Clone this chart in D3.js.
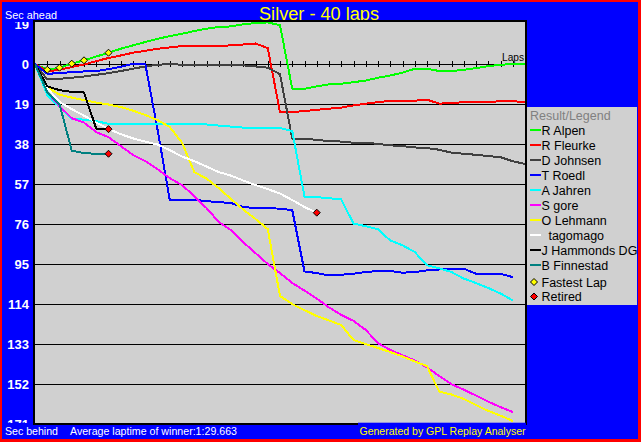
<!DOCTYPE html>
<html><head><meta charset="utf-8">
<script src="https://cdn.jsdelivr.net/npm/d3@7"></script>
<style>
html,body{margin:0;padding:0;background:#ff0000;overflow:hidden}
svg{display:block}
text{font-family:"Liberation Sans",Arial,sans-serif}
</style></head><body>
<svg id="c" width="641" height="442"></svg>
<script>
// ---------- data ----------
const chartTitle = "Silver - 40 laps";
const drivers = ["R Alpen","R Fleurke","D Johnsen","T Roedl","A Jahren","S gore","O Lehmann","  tagomago","J Hammonds DG","B Finnestad"];
// seconds ahead (+) / behind (-) per lap, index = lap number
const alpen    = [0,-2.7,-1.7,0.2,1.8,3.6,5.4,7.3,8.9,10.5,12.0,13.3,14.4,15.7,16.8,17.6,17.9,18.9,19.5,19.8,18.5,-11.7,-11.7,-10.6,-9.6,-9.3,-8.6,-7.8,-6.5,-5.4,-4.1,-2.2,-2.2,-3.3,-3.3,-2.7,-1.9,-1.0,-0.3,0,0];
const fleurke  = [0,-3.5,-2.7,-1.4,-0.2,1.4,2.9,4.1,5.4,6.3,7.3,7.9,8.6,8.6,8.6,8.6,8.9,9.3,9.8,7.6,-22.9,-22.8,-22.3,-21.7,-21.2,-20.7,-19.6,-18.8,-18.1,-17.4,-17.4,-17.4,-16.9,-18.8,-18.5,-18.1,-18.1,-18.1,-17.6,-17.6,-18.1];
const johnsen  = [0,-7.3,-7.0,-6.5,-5.9,-5.1,-4.3,-3.3,-2.2,-1.1,-0.3,0,-0.3,-0.5,-0.5,-0.5,-0.5,-0.6,-1.1,-1.7,-4.8,-35.5,-35.5,-36.0,-36.6,-36.8,-37.4,-37.4,-37.9,-38.6,-39.0,-39.6,-39.9,-40.7,-42.1,-42.6,-43.1,-43.7,-44.2,-46.2,-47.4];
const roedl    = [0,-4.6,-4.3,-3.8,-3.5,-3.3,-2.4,-1.3,0.1,0.2,-31.0,-64.5,-64.5,-64.5,-65.1,-65.6,-66.0,-67.9,-68.4,-68.4,-68.7,-69.4,-98.5,-99.3,-100.4,-100.1,-99.6,-98.8,-98.3,-98.3,-99.1,-98.8,-98.0,-97.6,-97.2,-97.2,-99.6,-99.6,-99.6,-101.2];
const jahren   = [0,-14.7,-20.4,-25.9,-26.4,-27.1,-28.4,-28.4,-28.4,-28.4,-28.4,-28.4,-28.4,-28.5,-28.7,-29.2,-29.7,-30.2,-30.5,-30.3,-30.4,-31.8,-63.0,-63.2,-63.7,-64.3,-75.8,-77.0,-78.5,-83.8,-86.1,-89.3,-95.6,-97.0,-98.8,-101.9,-104.0,-106.4,-109.0,-112.3];
const gore     = [0,-13.3,-20.0,-25.7,-27.8,-32.3,-34.7,-38.9,-43.2,-46.1,-49.9,-54.2,-57.5,-62.7,-68.4,-75.0,-78.9,-84.6,-89.8,-95.0,-99.3,-104.0,-107.6,-111.4,-115.6,-119.2,-122.0,-126.3,-132.6,-135.8,-138.3,-140.8,-144.1,-148.2,-152.1,-154.7,-157.5,-160.4,-163.0,-165.3];
const lehmann  = [0,-11.0,-14.5,-15.9,-17.1,-18.3,-19.2,-20.4,-22.1,-24.2,-26.6,-29.9,-37.3,-51.3,-54.4,-58.9,-64.1,-69.1,-73.6,-78.4,-110.2,-114.0,-116.9,-119.7,-121.8,-124.0,-131.1,-133.0,-134.9,-136.8,-138.9,-141.3,-143.5,-155.6,-157.0,-159.1,-162.0,-164.8,-167.0,-169.6];
const tagomago = [0,-11.4,-18.0,-21.4,-24.5,-27.8,-30.8,-33.3,-35.3,-36.8,-38.2,-40.9,-43.9,-46.1,-48.7,-51.3,-53.0,-55.3,-57.5,-59.4,-61.5,-64.6,-67.9,-70.6];
const hammonds = [0,-10.5,-12.4,-13.2,-13.5,-30.7,-30.9];
const finnestad= [0,-13.3,-19.0,-41.1,-42.3,-42.6,-42.6];
const seriesValues = [alpen,fleurke,johnsen,roedl,jahren,gore,lehmann,tagomago,hammonds,finnestad];

const totalLaps = 40;
const yTickValues = [19,0,-19,-38,-57,-76,-95,-114,-133,-152,-171];
const yTickLabels = ["19","0","19","38","57","76","95","114","133","152","171"];
const fastestLapDriver = "R Alpen";
const fastestLapLaps = [1,2,3,4,6];
const retiredDrivers = ["  tagomago","J Hammonds DG","B Finnestad"];
const legendTitle = "Result/Legend";
const legendExtras = ["Fastest Lap","Retired"];
const topLeftLabel = "Sec ahead";
const bottomLeftLabel = "Sec behind";
const avgLabel = "Average laptime of winner:1:29.663";
const creditLabel = "Generated by GPL Replay Analyser";
const lapsLabel = "Laps";

// ---------- styles ----------
const colors = ["#00ff00","#ff0000","#404040","#0000ff","#00ffff","#ff00ff","#ffff00","#ffffff","#000000","#008080"];
const BLUE = "#0000ff", GRAY = "#d0d0d0";

const svg = d3.select("#c");
const W = 641, H = 442;
const plot = {l:35, r:525, t:22, b:423.5};

const x = d3.scaleLinear().domain([0, totalLaps]).range([plot.l, plot.r]);
const y = d3.scaleLinear().domain([20, -171]).range([22, 424]);

// background
svg.append("rect").attr("width",W).attr("height",H).attr("fill","#ff0000");
svg.append("rect").attr("x",2).attr("y",2).attr("width",636).attr("height",437).attr("fill",BLUE);

// title + corner labels
svg.append("text").attr("x",319).attr("y",20).attr("text-anchor","middle")
  .attr("font-size",18).attr("fill","#ffff00").attr("textLength",120).attr("lengthAdjust","spacingAndGlyphs")
  .text(chartTitle);
svg.append("text").attr("x",5).attr("y",19).attr("font-size",11.5).attr("fill","#fff")
  .attr("textLength",52).attr("lengthAdjust","spacingAndGlyphs").text(topLeftLabel);

// plot area
svg.append("rect").attr("x",plot.l).attr("y",plot.t).attr("width",plot.r-plot.l).attr("height",plot.b-plot.t).attr("fill",GRAY);

// gridlines
const grid = svg.append("g").attr("shape-rendering","crispEdges");
grid.selectAll("line").data(yTickValues.filter(v => v < 0 && v > -171)).join("line")
  .attr("x1",plot.l).attr("x2",plot.r).attr("y1",d=>Math.round(y(d))+0.5).attr("y2",d=>Math.round(y(d))+0.5)
  .attr("stroke","#000").attr("stroke-width",1);

// zero line with lap ticks
const y0 = Math.round(y(0))+0.5;
grid.append("line").attr("x1",plot.l).attr("x2",plot.r).attr("y1",y0).attr("y2",y0).attr("stroke","#000");
grid.selectAll("line.tick").data(d3.range(1, totalLaps)).join("line").attr("class","tick")
  .attr("x1",d=>Math.round(x(d))+0.5).attr("x2",d=>Math.round(x(d))+0.5)
  .attr("y1",y0-3.5).attr("y2",y0+2.5).attr("stroke","#000");
svg.append("text").attr("x",524).attr("y",61).attr("text-anchor","end").attr("font-size",11.5)
  .attr("fill","#000").attr("textLength",22).attr("lengthAdjust","spacingAndGlyphs").text(lapsLabel);

// series
const line = d3.line().x((d,i)=>x(i)).y(d=>y(d));
const lines = svg.append("g").attr("fill","none").attr("stroke-width",2).attr("stroke-linejoin","round")
  .attr("shape-rendering","crispEdges");
seriesValues.forEach((vals,k) => {
  lines.append("path").datum(vals).attr("d",line).attr("stroke",colors[k]);
});

// markers
function diamond(g, cx, cy, fill){
  const s = 3.5;
  g.append("path").attr("d",`M${cx},${cy-s}L${cx+s},${cy}L${cx},${cy+s}L${cx-s},${cy}Z`)
   .attr("fill",fill).attr("stroke","#000").attr("stroke-width",1);
}
const mk = svg.append("g");
const fIdx = drivers.indexOf(fastestLapDriver);
fastestLapLaps.forEach(l => diamond(mk, x(l), y(seriesValues[fIdx][l]), "#ffff00"));
retiredDrivers.forEach(n => {
  const vals = seriesValues[drivers.indexOf(n)];
  const l = vals.length-1;
  diamond(mk, x(l), y(vals[l]), "#ff0000");
});

// plot frame
svg.append("rect").attr("x",plot.l-1).attr("y",plot.t-1).attr("width",plot.r-plot.l+2).attr("height",plot.b-plot.t+1.5)
  .attr("fill","none").attr("stroke","#000").attr("stroke-width",2);

// y axis labels (clipped to the plot band)
svg.append("clipPath").attr("id","yclip").append("rect").attr("x",0).attr("y",22).attr("width",34).attr("height",401);
const yAxis = d3.axisLeft(y).tickValues(yTickValues).tickSize(0).tickPadding(0)
  .tickFormat((d,i)=>yTickLabels[i]);
const ya = svg.append("g").attr("clip-path","url(#yclip)").append("g").attr("transform","translate(29,0)").call(yAxis);
ya.select(".domain").remove();
ya.selectAll("text").attr("fill","#fff").attr("font-size",13).attr("font-weight","bold")
  .attr("font-family","'Liberation Sans',Arial,sans-serif");

// bottom texts
svg.append("rect").attr("x",358).attr("y",422.7).attr("width",168).attr("height",16).attr("fill",BLUE);
svg.append("text").attr("x",5).attr("y",435).attr("font-size",11.5).attr("fill","#fff")
  .attr("textLength",53).attr("lengthAdjust","spacingAndGlyphs").text(bottomLeftLabel);
svg.append("text").attr("x",70).attr("y",435).attr("font-size",11.5).attr("fill","#fff")
  .attr("textLength",167).attr("lengthAdjust","spacingAndGlyphs").text(avgLabel);
svg.append("text").attr("x",359.5).attr("y",435).attr("font-size",11.5).attr("fill","#ffff00")
  .attr("textLength",166).attr("lengthAdjust","spacingAndGlyphs").text(creditLabel);

// legend
const lg = svg.append("g");
lg.append("rect").attr("x",527).attr("y",107).attr("width",110).attr("height",198).attr("fill",GRAY);
lg.append("text").attr("x",530).attr("y",119.5).attr("font-size",12.5).attr("fill","#808080").text(legendTitle);
drivers.forEach((n,i) => {
  const cy = 130 + i*15;
  lg.append("line").attr("x1",530).attr("x2",541).attr("y1",cy).attr("y2",cy)
    .attr("stroke",colors[i]).attr("stroke-width",2);
  lg.append("text").attr("x",541.5).attr("y",cy+4.5).attr("font-size",12.5).attr("fill","#000")
    .style("white-space","pre").text(n);
});
const extraY = [282, 296.5];
const extraFill = ["#ffff00","#ff0000"];
legendExtras.forEach((n,i) => {
  diamond(lg, 534, extraY[i], extraFill[i]);
  lg.append("text").attr("x",541.5).attr("y",extraY[i]+4.5).attr("font-size",12.5).attr("fill","#000").text(n);
});
</script>
</body></html>
